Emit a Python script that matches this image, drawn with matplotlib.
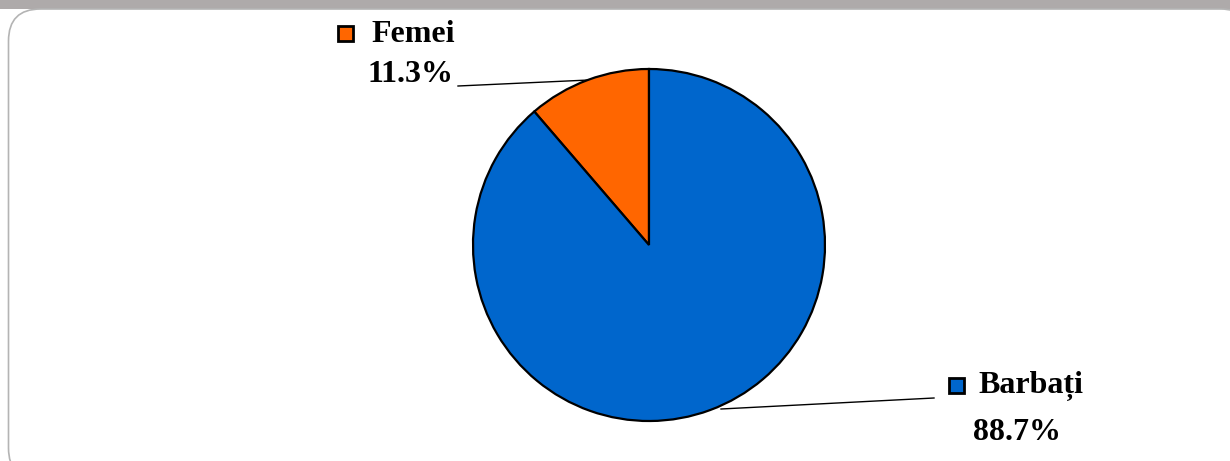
import matplotlib.pyplot as plt
from matplotlib.patches import FancyBboxPatch, Rectangle

# data
labels = ['Femei', 'Barbați']
shares = [11.3, 88.7]
colors = ['#ff6600', '#0066cc']

W, H = 1230, 461

def py(y):
    # pixel row -> data y (axis goes up)
    return H - y

plt.rcParams['font.family'] = ['Liberation Serif', 'DejaVu Serif']

fig = plt.figure(figsize=(W / 100, H / 100), dpi=100)
ax = fig.add_axes([0, 0, 1, 1])

# gray band on top + rounded panel
ax.add_patch(Rectangle((0, py(9)), W, 9, facecolor='#aeaaaa', edgecolor='none', zorder=0))
ax.add_patch(FancyBboxPatch((8.5, py(480)), 1244, 471,
                            boxstyle='round,pad=0,rounding_size=32',
                            facecolor='white', edgecolor='#b4b4b4', lw=1.2, zorder=1))

cx, cy, r = 649, py(245), 176
wedges, _ = ax.pie(shares, colors=colors, startangle=90, counterclock=True,
                   center=(cx, cy), radius=r, frame=True,
                   wedgeprops=dict(edgecolor='black', linewidth=1.6))
for w in wedges:
    w.set_zorder(3)
ax.set_xlim(0, W)
ax.set_ylim(0, H)
ax.set_aspect('equal')
ax.axis('off')

fs = 23
# Femei label
ax.add_patch(Rectangle((338, py(41)), 15, 15, facecolor=colors[0], edgecolor='black', lw=2, zorder=4))
ax.text(371, py(35), labels[0], fontsize=fs, fontweight='bold', ha='left', va='center', zorder=4)
ax.text(411, py(75), f'{shares[0]}%', fontsize=fs, fontweight='bold', ha='center', va='center', zorder=4)
ax.plot([458, 589], [py(86), py(80)], color='black', lw=1, zorder=2)

# Barbati label
ax.add_patch(Rectangle((949, py(393)), 15, 15, facecolor=colors[1], edgecolor='black', lw=2, zorder=4))
ax.text(978, py(386), labels[1], fontsize=fs, fontweight='bold', ha='left', va='center', zorder=4)
ax.text(1017, py(433), f'{shares[1]}%', fontsize=fs, fontweight='bold', ha='center', va='center', zorder=4)
ax.plot([721, 934], [py(409), py(398)], color='black', lw=1, zorder=2)

fig.savefig('out.png', dpi=100)
